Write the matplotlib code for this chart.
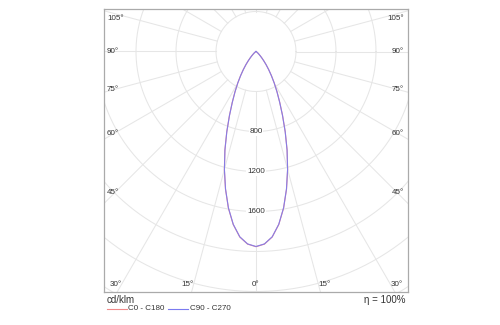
import numpy as np
import matplotlib
matplotlib.use("Agg")
import matplotlib.pyplot as plt
from matplotlib.lines import Line2D

plt.rcParams['font.family'] = ['Liberation Sans', 'DejaVu Sans']

# luminous intensity, cd/klm (gamma 0..90 deg)
gamma = [0, 2.5, 5, 7.5, 10, 12.5, 15, 17.5, 20, 22.5, 25, 27.5, 30, 32.5, 35,
         37.5, 40, 42.5, 45, 47.5, 50, 55, 60, 65, 70, 80, 90]
c0_c180 = [1952, 1928, 1862, 1745, 1590, 1410, 1222, 1035, 855, 695, 562, 456, 367,
           288, 222, 166, 119, 83, 56, 38, 26, 11, 4, 1, 0, 0, 0]
c90_c270 = [1950, 1926, 1860, 1743, 1588, 1408, 1220, 1033, 853, 693, 560, 454, 365,
            286, 220, 165, 118, 82, 55, 37, 25, 10, 4, 1, 0, 0, 0]

ring_values = [400, 800, 1200, 1600, 2000, 2400, 2800]
ring_labels = [800, 1200, 1600]
angle_labels = [0, 15, 30, 45, 60, 75, 90, 105]
spoke_angles = list(range(0, 360, 15))

GRID = '#e6e6e6'
TXT = '#333333'
RED = '#f08a8a'
BLUE = '#7b7bf0'
FS = 5.8

fig = plt.figure(figsize=(5, 3.25), dpi=100)
W, H = 500, 325
ax = fig.add_axes([104 / W, 1 - 292 / H, 304 / W, 283 / H])
ax.set_xlim(-1520, 1520)
ax.set_ylim(-2405, 425)
ax.set_xticks([])
ax.set_yticks([])
for s in ax.spines.values():
    s.set_color('#aaaaaa')
    s.set_linewidth(0.9)

# grid rings and spokes
t = np.linspace(0, 2 * np.pi, 721)
for r in ring_values:
    ax.plot(r * np.cos(t), r * np.sin(t), color=GRID, lw=0.75, zorder=1)
for a in spoke_angles:
    g = np.radians(a)
    ax.plot([400 * np.sin(g), 3200 * np.sin(g)], [-400 * np.cos(g), -3200 * np.cos(g)],
            color=GRID, lw=0.75, zorder=1)

# ring labels on the 0 deg axis
for r in ring_labels:
    ax.text(0, -r, str(r), ha='center', va='center', fontsize=FS, color=TXT, zorder=2,
            bbox=dict(facecolor='white', edgecolor='none', pad=0.6))

# angle labels along the frame
xin, ybot, ytop = 1415, -2325, 325
for a in angle_labels:
    g = np.radians(a)
    sx, cy = np.sin(g), -np.cos(g)
    for side in (-1, 1):
        if a == 0 and side == -1:
            continue
        if cy < 0 and abs(ybot / cy * sx) < xin:
            x = side * ybot / cy * sx
            ha = 'center' if a == 0 else ('left' if side > 0 else 'right')
            ax.text(x, ybot, f'{a}°', ha=ha, va='center', fontsize=FS, color=TXT, zorder=2)
        else:
            y = min(xin / sx * cy, ytop)
            y = max(y, ybot)
            if side < 0:
                ax.text(-1490, y, f'{a}°', ha='left', va='center', fontsize=FS, color=TXT, zorder=2)
            else:
                ax.text(1482, y, f'{a}°', ha='right', va='center', fontsize=FS, color=TXT, zorder=2)

# curves, mirrored over both half planes
gm = np.radians(np.array(gamma, dtype=float))
full_g = np.concatenate([-gm[::-1], gm[1:]])
for vals, col, al in [(c0_c180, RED, 1.0), (c90_c270, BLUE, 0.9)]:
    v = np.array(vals, dtype=float)
    full_v = np.concatenate([v[::-1], v[1:]])
    ax.plot(full_v * np.sin(full_g), -full_v * np.cos(full_g), color=col, lw=0.8,
            alpha=al, zorder=3)

# footer
fig.text(107 / W, 1 - 300 / H, 'cd/klm', fontsize=7, color=TXT, ha='left', va='center')
fig.text(405 / W, 1 - 300 / H, 'η = 100%', fontsize=7, color=TXT, ha='right', va='center')
fig.add_artist(Line2D([107 / W, 127 / W], [1 - 309 / H] * 2, color=RED, lw=0.8))
fig.text(128 / W, 1 - 309 / H, 'C0 - C180', fontsize=FS, color=TXT, ha='left', va='center')
fig.add_artist(Line2D([168 / W, 188 / W], [1 - 309 / H] * 2, color=BLUE, lw=0.8))
fig.text(190 / W, 1 - 309 / H, 'C90 - C270', fontsize=FS, color=TXT, ha='left', va='center')

fig.savefig('out.png', dpi=100)
